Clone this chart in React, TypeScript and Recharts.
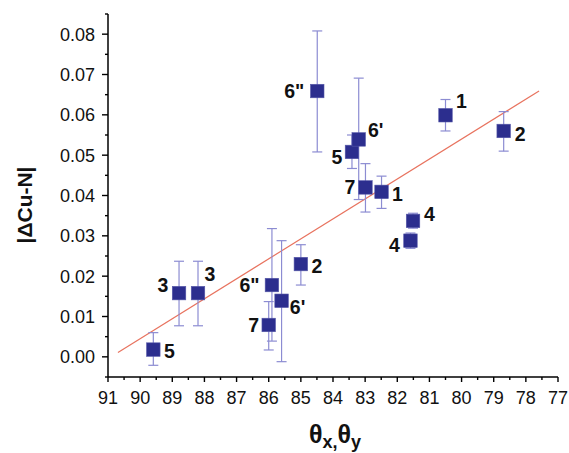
import React from 'react';
import { ScatterChart, Scatter, XAxis, YAxis, ErrorBar, ReferenceLine } from 'recharts';

// ---- data ----
const pointLabels = ['5', '3', '3', '7', '6"', "6'", '2', '6"', '5', "6'", '7', '1', '4', '4', '1', '2'];
const thetaValues = [89.59, 88.79, 88.2, 86.0, 85.9, 85.6, 85.0, 84.49, 83.41, 83.2, 82.99, 82.49, 81.51, 81.59, 80.5, 78.69];
const deltaCuN = [0.0018, 0.0158, 0.0158, 0.0079, 0.0178, 0.0139, 0.023, 0.0659, 0.0508, 0.0539, 0.042, 0.0409, 0.0337, 0.0288, 0.0599, 0.056];
const deltaUpper = [0.006, 0.0237, 0.0237, 0.0137, 0.0318, 0.0288, 0.0278, 0.0808, 0.055, 0.0691, 0.0479, 0.0448, 0.0356, 0.0307, 0.0638, 0.0608];
const deltaLower = [-0.0021, 0.0077, 0.0077, 0.0017, 0.0039, -0.0012, 0.0178, 0.0508, 0.0467, 0.039, 0.0359, 0.0368, 0.0319, 0.0269, 0.056, 0.051];

const fitTheta = [90.69, 77.59];
const fitDelta = [0.0011, 0.0659];

const xMajorTicks = [91, 90, 89, 88, 87, 86, 85, 84, 83, 82, 81, 80, 79, 78, 77];
const xMinorTicks = [90.5, 89.5, 88.5, 87.5, 86.5, 85.5, 84.5, 83.5, 82.5, 81.5, 80.5, 79.5, 78.5, 77.5];
const yMajorTicks = [0, 0.01, 0.02, 0.03, 0.04, 0.05, 0.06, 0.07, 0.08];
const yMinorTicks = [-0.005, 0.005, 0.015, 0.025, 0.035, 0.045, 0.055, 0.065, 0.075, 0.085];

// ---- style: label offsets (px) relative to each marker centre ----
const labelOffsets: [number, number][] = [
  [16, 1], [-16, -8.5], [12, -19], [-15, 0], [-22.5, 0], [16, 6.5], [16, 1.5], [-23, 0],
  [-15, 5.5], [17, -9.5], [-15.5, 0], [16, 2], [16.5, -7], [-16, 4], [16, -14], [16.5, 3],
];

const FONT = '"Liberation Sans", Arial, Helvetica, sans-serif';
const SQUARE = '#2C2E8E';
const ERR = '#8C8CD2';

const rows = thetaValues.map((x, i) => ({
  i,
  x,
  y: deltaCuN[i],
  label: pointLabels[i],
  err: [deltaCuN[i] - deltaLower[i], deltaUpper[i] - deltaCuN[i]],
}));

const isIn = (arr: number[], v: number) => arr.some((a) => Math.abs(a - v) < 1e-6);

const XTick = (props: any) => {
  const { x, y, payload } = props;
  const v = payload.value;
  if (isIn(xMajorTicks, v)) {
    return (
      <g>
        <line x1={x} y1={y} x2={x} y2={y + 5} stroke="#000" strokeWidth={1.4} />
        <text x={x} y={y + 26.5} textAnchor="middle" fontSize={18} fontFamily={FONT} fill="#111">
          {String(v)}
        </text>
      </g>
    );
  }
  return <line x1={x} y1={y} x2={x} y2={y + 3} stroke="#000" strokeWidth={1.4} />;
};

const YTick = (props: any) => {
  const { x, y, payload } = props;
  const v = payload.value;
  if (isIn(yMajorTicks, v)) {
    return (
      <g>
        <line x1={x - 6} y1={y} x2={x} y2={y} stroke="#000" strokeWidth={1.4} />
        <text x={x - 13} y={y} dy="0.36em" textAnchor="end" fontSize={18} fontFamily={FONT} fill="#111">
          {v.toFixed(2)}
        </text>
      </g>
    );
  }
  return <line x1={x - 3} y1={y} x2={x} y2={y} stroke="#000" strokeWidth={1.4} />;
};

const MarkerShape = (props: any) => {
  const { cx, cy, payload } = props;
  const [dx, dy] = labelOffsets[payload.i];
  return (
    <g>
      <rect x={cx - 6.75} y={cy - 6.75} width={13.5} height={13.5} fill={SQUARE} stroke="#5557a8" strokeWidth={0.6} />
      <text
        x={cx + dx}
        y={cy + dy}
        dy="0.36em"
        textAnchor="middle"
        fontSize={19.5}
        fontWeight="bold"
        fontFamily={FONT}
        fill="#111"
      >
        {payload.label}
      </text>
    </g>
  );
};

const YTitle = () => (
  <text
    x={24}
    y={205}
    transform="rotate(-90 24 205)"
    textAnchor="middle"
    dy="0.36em"
    fontSize={21}
    fontWeight="bold"
    fontFamily={FONT}
    fill="#111"
  >
    |ΔCu-N|
  </text>
);

const XTitle = () => (
  <text x={335} y={443} textAnchor="middle" fontSize={25} fontWeight="bold" fontFamily={FONT} fill="#111">
    <tspan>θ</tspan>
    <tspan fontSize={18} dy={5}>x</tspan>
    <tspan fontSize={18} dy={0}>,</tspan>
    <tspan dy={-5}>θ</tspan>
    <tspan fontSize={18} dy={5}>y</tspan>
  </text>
);

export default function App() {
  return (
    <div style={{ position: 'absolute', left: 0, top: 0, background: '#fff' }}>
      <ScatterChart width={569} height={453} margin={{ top: 14, right: 11, left: 0, bottom: 0 }}>
        <XAxis
          type="number"
          dataKey="x"
          domain={[77, 91]}
          reversed
          allowDataOverflow
          ticks={[...xMajorTicks, ...xMinorTicks]}
          interval={0}
          tickSize={0}
          tickMargin={0}
          tickLine={false}
          tick={<XTick />}
          axisLine={{ stroke: '#000', strokeWidth: 1.5 }}
          height={76}
          label={<XTitle />}
        />
        <YAxis
          type="number"
          dataKey="y"
          domain={[-0.005, 0.085]}
          allowDataOverflow
          ticks={[...yMajorTicks, ...yMinorTicks]}
          interval={0}
          tickSize={0}
          tickMargin={0}
          tickLine={false}
          tick={<YTick />}
          axisLine={{ stroke: '#000', strokeWidth: 1.5 }}
          width={108}
          label={<YTitle />}
        />
        <ReferenceLine
          segment={[
            { x: fitTheta[0], y: fitDelta[0] },
            { x: fitTheta[1], y: fitDelta[1] },
          ]}
          stroke="#E8735F"
          strokeWidth={1.2}
          ifOverflow="visible"
        />
        <Scatter data={rows} shape={<MarkerShape />} isAnimationActive={false}>
          <ErrorBar dataKey="err" direction="y" width={5} stroke={ERR} strokeWidth={1.2} />
        </Scatter>
      </ScatterChart>
    </div>
  );
}
